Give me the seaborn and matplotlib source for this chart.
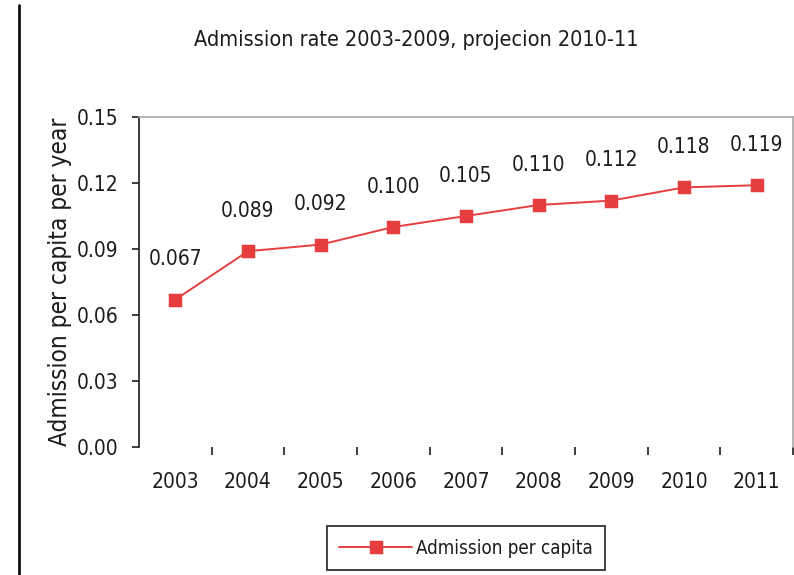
import matplotlib
matplotlib.use("Agg")
import matplotlib.pyplot as plt
from matplotlib.lines import Line2D
from matplotlib.ticker import FixedLocator, FormatStrFormatter
import pandas as pd
import seaborn as sns

# Admission rate per capita, observed 2003-2009 and projected 2010-2011
years = ["2003", "2004", "2005", "2006", "2007", "2008", "2009", "2010", "2011"]
rates = [0.067, 0.089, 0.092, 0.100, 0.105, 0.110, 0.112, 0.118, 0.119]
rate_labels = ["0.067", "0.089", "0.092", "0.100", "0.105", "0.110", "0.112", "0.118", "0.119"]
y_ticks = [0.00, 0.03, 0.06, 0.09, 0.12, 0.15]

title = "Admission rate 2003-2009, projecion 2010-11"
y_title = "Admission per capita per year"
series_name = "Admission per capita"

sns.set_theme(style="white")
plt.rcParams["font.family"] = ["DejaVu Sans"]
plt.rcParams["font.stretch"] = "condensed"

red = "#E63E3E"
ink = "#1c1c1c"

df = pd.DataFrame({"year": years, "rate": rates})

fig = plt.figure(figsize=(7.94, 5.75), dpi=100)
ax = fig.add_axes([139 / 794, 1 - 447 / 575, (793 - 139) / 794, 330 / 575])

sns.pointplot(data=df, x="year", y="rate", color=red, marker="s",
              markersize=9, linewidth=1.4, label=series_name, ax=ax)

ax.set_ylim(0, 0.15)
ax.set_xlim(-0.5, len(years) - 0.5)
ax.yaxis.set_major_locator(FixedLocator(y_ticks))
ax.yaxis.set_major_formatter(FormatStrFormatter("%.2f"))

# category separators as small outward ticks under the axis
ax.set_xticks(range(len(years)))
ax.set_xticklabels(years)
ax.set_xticks([i + 0.5 for i in range(len(years))], minor=True)
ax.tick_params(axis="x", which="major", length=0, pad=18, labelsize=15, labelcolor=ink)
ax.tick_params(axis="x", which="minor", length=6, width=1.2, color=ink, direction="out", bottom=True)
ax.tick_params(axis="y", length=5, width=1.2, color=ink, direction="out", left=True,
               labelsize=15, labelcolor=ink, pad=10)

for side in ["top", "right"]:
    ax.spines[side].set_color("#a8a8a8")
    ax.spines[side].set_linewidth(1.2)
ax.spines["left"].set_color(ink)
ax.spines["left"].set_linewidth(1.2)
ax.spines["bottom"].set_visible(False)

for i, (v, lab) in enumerate(zip(rates, rate_labels)):
    ax.annotate(lab, (i, v), xytext=(0, 29), textcoords="offset points",
                ha="center", va="center", fontsize=15, color=ink)

ax.set_xlabel("")
ax.set_ylabel(y_title, fontsize=17.5, color=ink, labelpad=3)

fig.text(416 / 794, 1 - 40 / 575, title, ha="center", va="center", fontsize=15.5, color=ink)

leg = ax.legend(loc="center", bbox_to_anchor=(466 / 794, 1 - 548 / 575),
                bbox_transform=fig.transFigure, frameon=True, fancybox=False,
                fontsize=13.5, handlelength=3.9, borderpad=0.65, handletextpad=0.2,
                borderaxespad=0)
leg.get_frame().set_edgecolor("#111111")
leg.get_frame().set_linewidth(1.4)
for t in leg.get_texts():
    t.set_color(ink)

# page edge on the left
fig.add_artist(Line2D([19 / 794, 19 / 794], [0, 1 - 5 / 575],
                      transform=fig.transFigure, color="#111111", linewidth=2))

fig.savefig("out.png", dpi=100)
